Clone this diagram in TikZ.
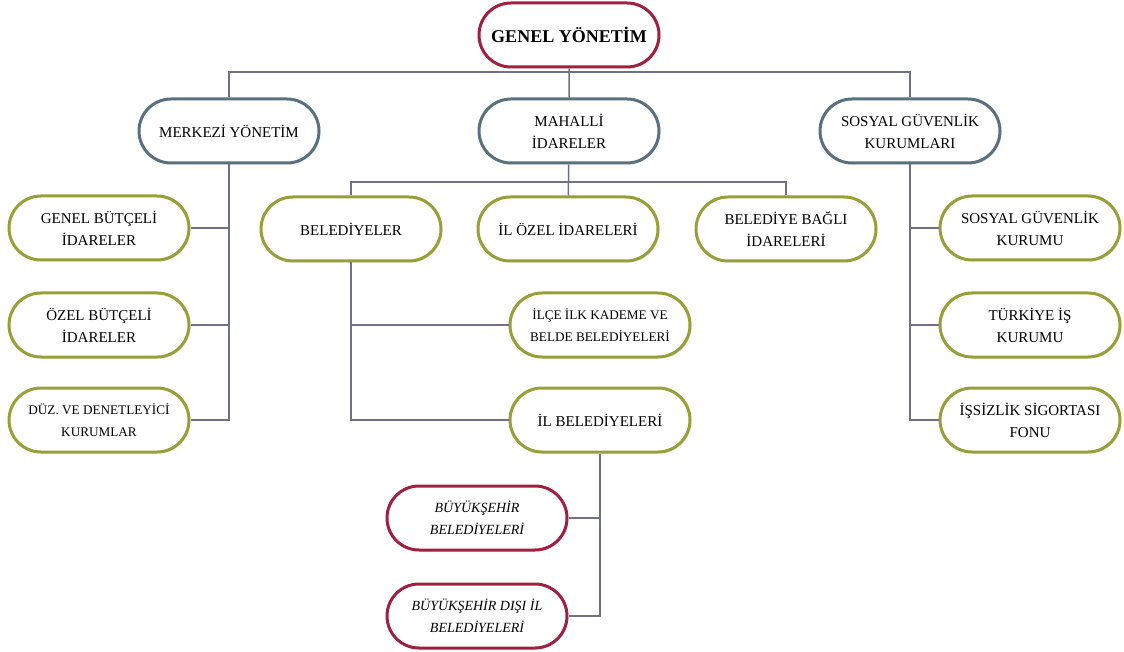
\documentclass[tikz,border=0pt]{standalone}
\usepackage{fontspec}
\setmainfont{Liberation Serif}
\usetikzlibrary{shapes.misc,shadows}
\definecolor{boxred}{RGB}{160,32,64}
\definecolor{boxslate}{RGB}{88,112,128}
\definecolor{boxolive}{RGB}{150,160,55}
\definecolor{linkgray}{RGB}{112,112,140}
\tikzset{
  box/.style={rounded rectangle, draw, line width=1.5pt, fill=white,
    minimum width=94pt, minimum height=32pt, inner sep=2pt, align=center,
    drop shadow={opacity=0.12, shadow xshift=0.8pt, shadow yshift=-0.8pt},
    font=\fontsize{7.5}{11}\selectfont},
  topbox/.style={box, draw=boxred, font=\bfseries\fontsize{9}{11}\selectfont},
  midbox/.style={box, draw=boxslate},
  leafbox/.style={box, draw=boxolive},
  smallleaf/.style={leafbox, font=\fontsize{6.6}{11}\selectfont},
  citybox/.style={box, draw=boxred, font=\itshape\fontsize{7}{11}\selectfont},
  link/.style={draw=linkgray, line width=0.75pt}
}
\begin{document}
\begin{tikzpicture}[x=0.5pt, y=-0.5pt]
  \useasboundingbox (0,0) rectangle (1124,652);

  % Nodes
  \node[topbox] (Genel) at (569, 35) {GENEL YÖNETİM};

  \node[midbox] (Merkezi) at (229, 131) {MERKEZİ YÖNETİM};
  \node[midbox] (Mahalli) at (569, 131) {MAHALLİ\\İDARELER};
  \node[midbox] (Sosyal) at (910, 131) {SOSYAL GÜVENLİK\\KURUMLARI};

  \node[leafbox] (GenelButce) at (99, 228) {GENEL BÜTÇELİ\\İDARELER};
  \node[leafbox] (OzelButce) at (99, 325) {ÖZEL BÜTÇELİ\\İDARELER};
  \node[smallleaf] (Duzenleyici) at (99, 420) {DÜZ. VE DENETLEYİCİ\\KURUMLAR};

  \node[leafbox] (Belediyeler) at (351, 229) {BELEDİYELER};
  \node[leafbox] (IlOzel) at (568, 229) {İL ÖZEL İDARELERİ};
  \node[leafbox] (BelediyeBagli) at (786, 229) {BELEDİYE BAĞLI\\İDARELERİ};

  \node[smallleaf] (IlceBelde) at (600, 325) {İLÇE İLK KADEME VE\\BELDE BELEDİYELERİ};
  \node[leafbox] (IlBelediye) at (600, 420) {İL BELEDİYELERİ};

  \node[citybox] (Buyuksehir) at (477, 518) {BÜYÜKŞEHİR\\BELEDİYELERİ};
  \node[citybox] (BuyuksehirDisi) at (477, 616) {BÜYÜKŞEHİR DIŞI İL\\BELEDİYELERİ};

  \node[leafbox] (Sgk) at (1030, 228) {SOSYAL GÜVENLİK\\KURUMU};
  \node[leafbox] (IsKurumu) at (1030, 325) {TÜRKİYE İŞ\\KURUMU};
  \node[leafbox] (IssizlikFonu) at (1030, 420) {İŞSİZLİK SİGORTASI\\FONU};

  \coordinate (TopBus) at (569, 72);
  \coordinate (MahalliBus) at (569, 182);

  % Lines
  \draw[link] (Genel) -- (Mahalli);
  \draw[link] (Merkezi) |- (TopBus) -| (Sosyal);

  \draw[link] (Merkezi) |- (GenelButce);
  \draw[link] (Merkezi) |- (OzelButce);
  \draw[link] (Merkezi) |- (Duzenleyici);

  \draw[link] (Mahalli) -- (IlOzel);
  \draw[link] (Belediyeler) |- (MahalliBus) -| (BelediyeBagli);

  \draw[link] (Belediyeler) |- (IlceBelde);
  \draw[link] (Belediyeler) |- (IlBelediye);

  \draw[link] (IlBelediye) |- (Buyuksehir);
  \draw[link] (IlBelediye) |- (BuyuksehirDisi);

  \draw[link] (Sosyal) |- (Sgk);
  \draw[link] (Sosyal) |- (IsKurumu);
  \draw[link] (Sosyal) |- (IssizlikFonu);
\end{tikzpicture}
\end{document}
